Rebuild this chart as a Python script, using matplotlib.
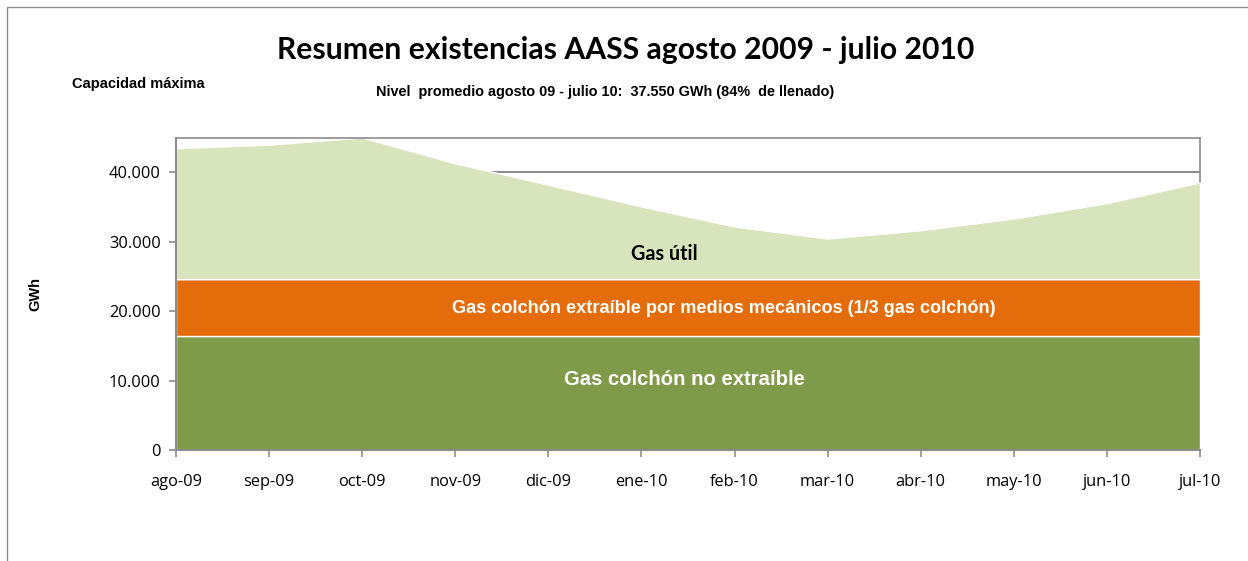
import matplotlib
matplotlib.use("Agg")
import matplotlib.pyplot as plt
from matplotlib.patches import Rectangle
from matplotlib.ticker import FuncFormatter

months = ["ago-09", "sep-09", "oct-09", "nov-09", "dic-09", "ene-10",
          "feb-10", "mar-10", "abr-10", "may-10", "jun-10", "jul-10"]
total_level = [43450, 43970, 45000, 41280, 38200, 35070,
               32180, 30450, 31650, 33340, 35550, 38540]
cushion_non_extractable = 16400
cushion_extractable = 8200
max_capacity_line = 40000

cushion_total = cushion_non_extractable + cushion_extractable
gas_util = [v - cushion_total for v in total_level]
non_extr = [cushion_non_extractable] * len(months)
extr = [cushion_extractable] * len(months)

W, H = 1248, 561
fig = plt.figure(figsize=(W / 100, H / 100), dpi=100)
fig.patch.set_facecolor("white")

# outer chart border
fig.add_artist(Rectangle((7 / W, -0.1), 1.2, 1 - 7 / H + 0.1, transform=fig.transFigure,
                         fill=False, edgecolor="#8c8c8c", linewidth=1.0))

ax = fig.add_axes([176 / W, (H - 450) / H, (1200 - 176) / W, (450 - 137.5) / H])
x = list(range(len(months)))

ax.axhline(max_capacity_line, color="#8c8c8c", linewidth=1.5, zorder=0.6)
ax.stackplot(x, non_extr, extr, gas_util,
             colors=["#7F9A48", "#E46C0A", "#D8E4BC"],
             edgecolor="white", linewidth=1.0, zorder=1)

ax.set_xlim(0, len(months) - 1)
ax.set_ylim(0, 45000)
ax.set_xticks(x)
ax.set_xticklabels(months)
ax.set_yticks([0, 10000, 20000, 30000, 40000])
ax.yaxis.set_major_formatter(FuncFormatter(lambda v, p: f"{int(v):,}".replace(",", ".")))

for s in ax.spines.values():
    s.set_color("#8c8c8c")
    s.set_linewidth(1.5)
ax.spines["right"].set_zorder(0.5)
ax.spines["right"].set_linewidth(1.2)
ax.spines["top"].set_linewidth(1.2)

ax.tick_params(axis="both", colors="#8c8c8c", length=5, width=1.2, direction="out",
               labelcolor="black", labelsize=11.8)
ax.tick_params(axis="x", pad=12)
ax.tick_params(axis="y", pad=6)
for lab in ax.get_xticklabels() + ax.get_yticklabels():
    lab.set_family("Open Sans")

ax.set_ylabel("GWh", fontsize=10.5, fontweight="bold", family="Liberation Sans", labelpad=48)

fig.text(626 / W, 1 - 50 / H, "Resumen existencias AASS agosto 2009 - julio 2010",
         ha="center", va="center", fontsize=21.7, fontweight="bold", family="Lato")
fig.text(605 / W, 1 - 92 / H,
         "Nivel  promedio agosto 09 - julio 10:  37.550 GWh (84%  de llenado)",
         ha="center", va="center", fontsize=10.4, fontweight="bold", family="Liberation Sans")
fig.text(72 / W, 1 - 84 / H, "Capacidad máxima", ha="left", va="center",
         fontsize=10.5, fontweight="bold", family="Liberation Sans")

ax.text(5.25, 28200, "Gas útil", ha="center", va="center", fontsize=14.2,
        fontweight="bold", family="Lato", color="black")
ax.text(5.89, 20400, "Gas colchón extraíble por medios mecánicos (1/3 gas colchón)",
        ha="center", va="center", fontsize=13.1, fontweight="bold",
        family="Liberation Sans", color="white")
ax.text(5.46, 10100, "Gas colchón no extraíble", ha="center", va="center",
        fontsize=14.6, fontweight="bold", family="Liberation Sans", color="white")

fig.savefig("out.png", dpi=100)
